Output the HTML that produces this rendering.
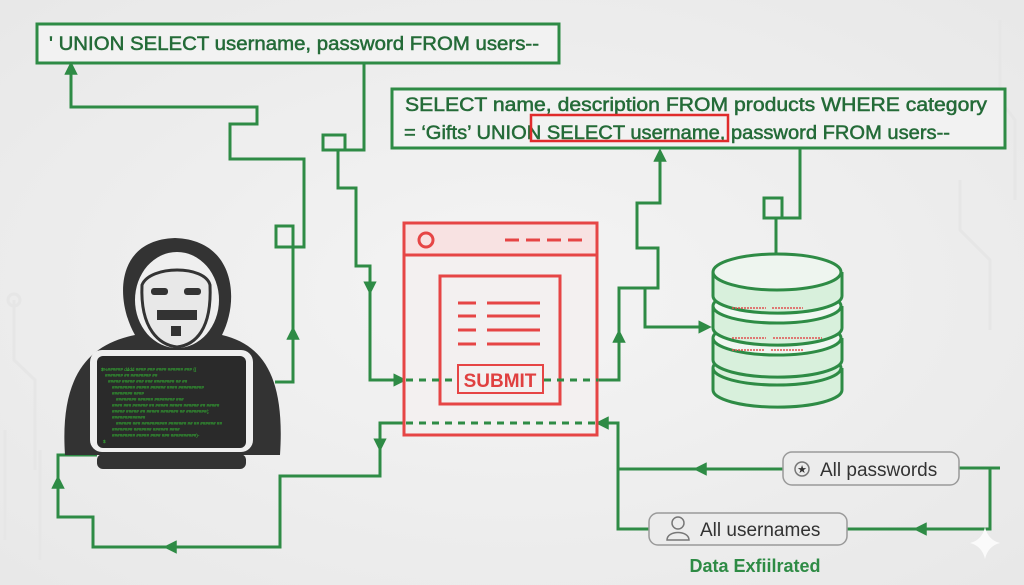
<!DOCTYPE html>
<html><head><meta charset="utf-8"><style>
html,body{margin:0;padding:0;background:#efefef;}
svg{display:block;}
text{font-family:"Liberation Sans",sans-serif;}
</style></head><body>
<svg width="1024" height="585" viewBox="0 0 1024 585" xmlns="http://www.w3.org/2000/svg">
<defs>
<marker id="a" viewBox="0 0 10 10" refX="5" refY="5" markerWidth="4.5" markerHeight="4.5" orient="auto"><path d="M0,0L10,5L0,10z" fill="#2e8b45"/></marker>
<radialGradient id="bg" cx="50%" cy="50%" r="70%"><stop offset="0" stop-color="#f4f4f4"/><stop offset="1" stop-color="#e8e8e8"/></radialGradient>
</defs>
<rect width="1024" height="585" fill="url(#bg)"/>
<g stroke="#e6e6e6" stroke-width="3" fill="none">
<path d="M14,300 V360 L35,380 V470"/><circle cx="14" cy="300" r="6"/>
<path d="M5,430 V540"/><path d="M40,450 V560"/>
<path d="M1000,20 V100 L1015,120 V200"/><path d="M960,180 V230 L990,260 V330"/>
</g>
<g fill="none" stroke="#2e8b45" stroke-width="3">
<rect x="37" y="24" width="522" height="39" fill="#f2f2f2"/>
<rect x="392" y="89" width="613" height="59" fill="#f2f2f2"/>
<path d="M275,382 H293 V333" marker-end="url(#a)"/>
<path d="M293,333 V236 V226 H276 V247 H304 V159 H230 V124 H257 V107 H71 V68" marker-end="url(#a)"/>
<path d="M364,63 V150 H323 V135 H345 V150 M338,150 V188 H356 V266 H370 V288" marker-end="url(#a)"/>
<path d="M370,285 V380 H400" marker-end="url(#a)"/>
<path d="M598,380 H619 V336" marker-end="url(#a)"/>
<path d="M619,336 V288 H658 V248 H637 V203 H660 V155" marker-end="url(#a)"/>
<path d="M645,288 V327 H705" marker-end="url(#a)"/>
<path d="M800,148 V218 H764 V198 H782 V218 M776,218 V268" marker-end="url(#a)"/>
<path d="M1000,468 H959"/>
<path d="M990,468 V529 H920" marker-end="url(#a)"/>
<path d="M920,529 H847"/>
<path d="M783,469 H700" marker-end="url(#a)"/>
<path d="M700,469 H618"/>
<path d="M649,529 H618 V423 H602" marker-end="url(#a)"/>
<path d="M405,423 H380 V445" marker-end="url(#a)"/>
<path d="M380,445 V476 H280 V547 H170" marker-end="url(#a)"/>
<path d="M170,547 H93 V517 H58 V482" marker-end="url(#a)"/>
<path d="M58,482 V455 H97"/>
</g>
<g fill="#246b38" stroke="#246b38" stroke-width="0.5">
<text x="49" y="50" font-size="19" textLength="490" lengthAdjust="spacingAndGlyphs">' UNION SELECT username, password FROM users--</text>
<text x="405" y="111" font-size="19" textLength="582" lengthAdjust="spacingAndGlyphs">SELECT name, description FROM products WHERE category</text>
<text x="404" y="139" font-size="19" textLength="546" lengthAdjust="spacingAndGlyphs">= ‘Gifts’ UNION SELECT username, password FROM users--</text>
</g>
<rect x="531" y="115" width="197" height="26" fill="none" stroke="#e02b2b" stroke-width="2.5"/>
<g stroke="#e64545" stroke-width="3" fill="none">
<rect x="404" y="223" width="193" height="212" fill="#f3f0f0"/>
<rect x="404" y="223" width="193" height="32" fill="#f8e2e2"/>
<circle cx="426" cy="240" r="7"/>
<path d="M505,240H585" stroke-dasharray="14,7"/>
<rect x="440" y="276" width="120" height="128"/>
<path d="M458,303H476M487,303H540M458,316H476M487,316H540M458,330H476M487,330H540M458,344H476M487,344H540"/>
<rect x="458" y="365" width="85" height="28" stroke-width="2"/>
</g>
<text x="500" y="387" font-size="19" font-weight="bold" fill="#e04040" text-anchor="middle">SUBMIT</text>
<g stroke="#2e8b45" stroke-width="3" stroke-dasharray="7,6">
<path d="M406,380H457M544,380H598"/>
<path d="M406,423H598"/>
</g>
<g stroke="#2e8b45" stroke-width="3" fill="#d8f0dc">
<path d="M713,368 V390 A64,17 0 0 0 842,390 V368"/>
<ellipse cx="777" cy="368" rx="64" ry="17"/>
<path d="M713,338 V360 A64,17 0 0 0 842,360 V338"/>
<ellipse cx="777" cy="338" rx="64" ry="17" fill="#f0f7f1"/>
<path d="M713,306 V328 A64,17 0 0 0 842,328 V306"/>
<ellipse cx="777" cy="306" rx="64" ry="17" fill="#f0f7f1"/>
<path d="M713,272 V296 A64,17 0 0 0 842,296 V272"/>
<ellipse cx="777" cy="272" rx="64" ry="18" fill="#eef5ef"/>
</g>
<g stroke="#e05050" stroke-width="1.5" stroke-dasharray="2,1">
<path d="M732,308H766M772,308H803M732,338H766M773,338H822M732,350H765M771,350H803"/>
</g>
<g>
<path d="M65,455 C60,380 85,345 135,335 C115,300 115,240 175,238 C235,240 240,300 222,335 C265,345 285,380 280,455 Z" fill="#333"/>
<ellipse cx="177" cy="300" rx="42" ry="48" fill="#efefef"/>
<path d="M142,285 C140,330 160,345 177,347 C195,345 212,330 210,285 C205,265 150,265 142,285Z" fill="#e8e8e8" stroke="#333" stroke-width="3"/>
<rect x="151" y="288" width="17" height="7" rx="3" fill="#333"/>
<rect x="184" y="288" width="17" height="7" rx="3" fill="#333"/>
<path d="M157,310 H197 V320 H157Z" fill="#333"/>
<rect x="171" y="326" width="10" height="10" fill="#333"/>
<rect x="90" y="350" width="163" height="102" rx="12" fill="#efefef"/>
<rect x="97" y="356" width="149" height="92" rx="6" fill="#2a2a2a"/>
<rect x="97" y="454" width="149" height="15" rx="6" fill="#333"/>
<g fill="#35d035" font-family="Liberation Mono,monospace" font-size="4.6">
<text x="101" y="371">$%###### dddd #### ### #### ###### ### {{</text>
<text x="105" y="377">####### ## ######## ##</text>
<text x="108" y="383">##### ##### ### ### ######## ## ##</text>
<text x="112" y="389">######### ##### ###### #### ##########</text>
<text x="112" y="395">######## ####</text>
<text x="116" y="401">######## ###### ######## ###</text>
<text x="112" y="407">#### ### ###### ## ##### ##### ###### ## #####</text>
<text x="112" y="413">##### ##### ## ##### ####### ## ########(;</text>
<text x="112" y="419">#############</text>
<text x="116" y="425">###### ### ########## ####### ## ## ###### ##</text>
<text x="112" y="431">######## ####### ###### ####</text>
<text x="112" y="437">######### ##### #### ### ##########)-</text>
<text x="103" y="443">$</text>
</g>
</g>
<rect x="783" y="452" width="176" height="33" rx="9" fill="#ececec" stroke="#9a9a9a" stroke-width="1.5"/>
<circle cx="802" cy="469" r="7" fill="none" stroke="#777" stroke-width="1.5"/>
<text x="802" y="473" font-size="11" fill="#333" text-anchor="middle">★</text>
<text x="820" y="476" font-size="19" fill="#333">All passwords</text>
<rect x="649" y="513" width="198" height="32" rx="9" fill="#ececec" stroke="#9a9a9a" stroke-width="1.5"/>
<circle cx="678" cy="523" r="6" fill="none" stroke="#777" stroke-width="1.5"/>
<path d="M667,540 C667,530 689,530 689,540 Z" fill="none" stroke="#777" stroke-width="1.5"/>
<text x="700" y="536" font-size="19" fill="#333">All usernames</text>
<text x="755" y="572" font-size="18" font-weight="bold" fill="#2e8b45" text-anchor="middle">Data Exfiilrated</text>
<path d="M985,527 Q988,540 1000,543 Q988,546 985,559 Q982,546 970,543 Q982,540 985,527Z" fill="#fafafa"/>
</svg>
</body></html>
